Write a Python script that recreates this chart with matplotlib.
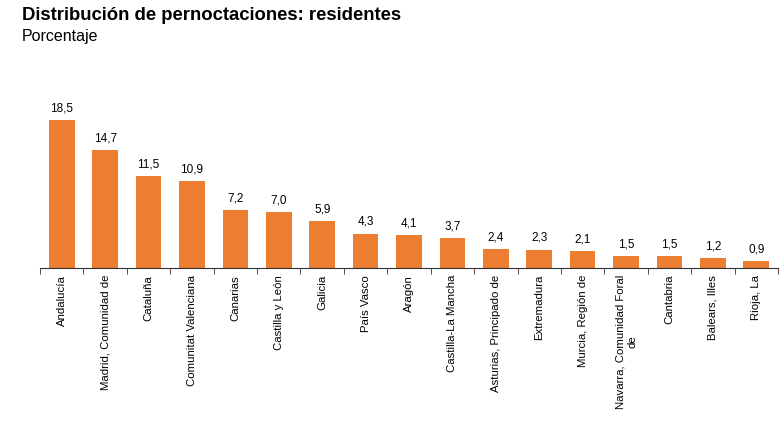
import matplotlib
matplotlib.use("Agg")
import matplotlib.pyplot as plt
import numpy as np

categories = ["Andalucía", "Madrid, Comunidad de", "Cataluña", "Comunitat Valenciana",
              "Canarias", "Castilla y León", "Galicia", "País Vasco", "Aragón",
              "Castilla-La Mancha", "Asturias, Principado de", "Extremadura",
              "Murcia, Región de", "Navarra, Comunidad Foral\nde", "Cantabria",
              "Balears, Illes", "Rioja, La"]
values = [18.5, 14.7, 11.5, 10.9, 7.2, 7.0, 5.9, 4.3, 4.1, 3.7, 2.4, 2.3, 2.1, 1.5, 1.5, 1.2, 0.9]

plt.rcParams['font.family'] = ['Liberation Sans', 'DejaVu Sans']

fig = plt.figure(figsize=(7.83, 4.30), dpi=100)
ax = fig.add_axes([40/783, 1-268/430, 738/783, 178/430])
x = np.arange(len(categories))
ax.bar(x, values, width=0.59, color="#ED7D31")
for xi, v in zip(x, values):
    ax.text(xi, v + 0.7, f"{v:.1f}".replace(".", ","), ha="center", va="bottom", fontsize=8.5)
ax.set_xlim(-0.5, len(categories) - 0.5)
ax.set_ylim(0, 178/8)
for s in ["top", "right", "left"]:
    ax.spines[s].set_visible(False)
ax.spines["bottom"].set_color("#333333")
ax.set_yticks([])
ax.set_xticks(x)
ax.set_xticklabels(categories, rotation=90, fontsize=8.2, va="top", ha="center",
                   multialignment="center", linespacing=1.25)
ax.tick_params(axis="x", which="major", length=0, pad=5)
ax.set_xticks(np.arange(-0.5, len(categories)), minor=True)
ax.tick_params(axis="x", which="minor", length=4, direction="out", color="#333333")

fig.text(22/783, 1-15/430, "Distribución de pernoctaciones: residentes", fontsize=13.3,
         fontweight="bold", va="center", ha="left")
fig.text(22/783, 1-36/430, "Porcentaje", fontsize=11.5, va="center", ha="left")

fig.savefig("out.png", dpi=100)
